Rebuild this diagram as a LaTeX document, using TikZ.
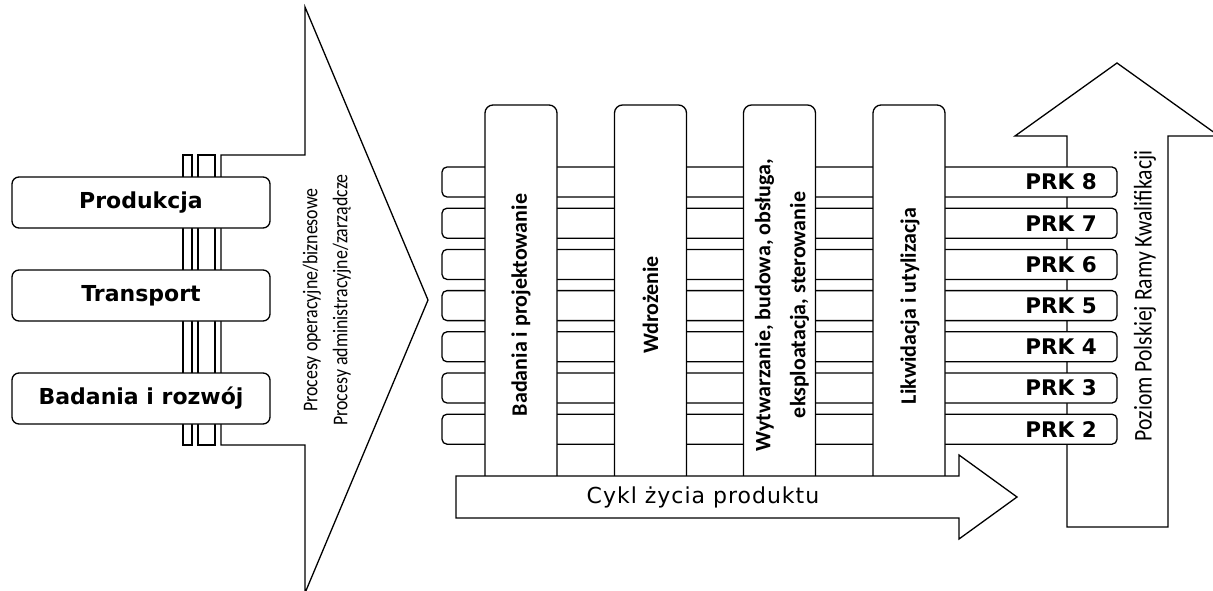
\documentclass[tikz,border=0pt]{standalone}
\usepackage{fontspec}
\newfontfamily\labelfont{DejaVu Sans}
\newfontfamily\spacedfont{DejaVu Sans}[LetterSpace=4.5]
\newfontfamily\condfont{Carlito}[FakeStretch=0.85]
\newfontfamily\phasefont{Carlito}
\begin{document}
\begin{tikzpicture}[x=1pt,y=-1pt,line width=1.3pt,line join=miter,
  procbox/.style={draw,fill=white,rounded corners=7pt,minimum width=258pt,minimum height=51pt,inner sep=0pt,
    font=\labelfont\bfseries\fontsize{22}{26}\selectfont},
  rowbox/.style={draw,fill=white,rounded corners=5pt,minimum width=675pt,minimum height=30pt,inner sep=0pt},
  colbox/.style={draw,fill=white,rounded corners=8pt,minimum width=72pt,minimum height=395pt,inner sep=0pt},
  prklabel/.style={font=\labelfont\bfseries\fontsize{21.5}{25}\selectfont,inner sep=0pt},
  coltext/.style={rotate=90,align=center,inner sep=0pt,font=\phasefont\bfseries\fontsize{22}{35}\selectfont},
  sidetext/.style={rotate=90,align=center,inner sep=0pt,font=\condfont\fontsize{21}{30}\selectfont},
  bigarrow/.style={draw,fill=white}]
\useasboundingbox (0,0) rectangle (1213,591);

% process arrow with its supporting pillars
\draw[bigarrow] (221,155) -- (305,155) -- (305,7) -- (428,300) -- (305,593) -- (305,445) -- (221,445) -- cycle;
\draw[fill=white] (183,155) rectangle (192,445);
\draw[fill=white] (198,155) rectangle (215,445);
\node[procbox] (prod) at (141,202.5) {Produkcja};
\node[procbox] (trans) at (141,295.5) {Transport};
\node[procbox] (bir) at (141,398.5) {Badania i rozwój};
\node[sidetext] (proc) at (327,300) {Procesy operacyjne/biznesowe\\Procesy administracyjne/zarządcze};

% qualification level arrow
\draw[bigarrow] (1067,527) -- (1067,136) -- (1015,136) -- (1117,63) -- (1219,136) -- (1168,136) -- (1168,527) -- cycle;
\node[sidetext,font=\condfont\fontsize{25.5}{30}\selectfont] (prk) at (1145,296) {Poziom Polskiej Ramy Kwalifikacji};

% qualification rows
\foreach \i/\n in {0/8,1/7,2/6,3/5,4/4,5/3,6/2}{
  \node[rowbox] (row\n) at (779.5,{182+41.2*\i}) {};
  \node[prklabel] (prk\n) at (1061,{182+41.2*\i}) {PRK \n};
}

% life cycle phases
\node[colbox] (c1) at (521,302.5) {};
\node[colbox] (c2) at (650.5,302.5) {};
\node[colbox] (c3) at (779.5,302.5) {};
\node[colbox] (c4) at (909,302.5) {};
\node[coltext] (t1) at (521,305) {Badania i projektowanie};
\node[coltext] (t2) at (650.5,305) {Wdrożenie};
\node[coltext] (t3) at (782,305) {Wytwarzanie, budowa, obsługa,\\eksploatacja, sterowanie};
\node[coltext] (t4) at (910,306) {Likwidacja i utylizacja};

% product life cycle arrow
\draw[bigarrow] (456,476) -- (959,476) -- (959,455) -- (1017,497) -- (959,539) -- (959,518) -- (456,518) -- cycle;
\node[font=\spacedfont\fontsize{22}{26}\selectfont,inner sep=0pt] (cykl) at (703,497) {Cykl życia produktu};
\end{tikzpicture}
\end{document}
